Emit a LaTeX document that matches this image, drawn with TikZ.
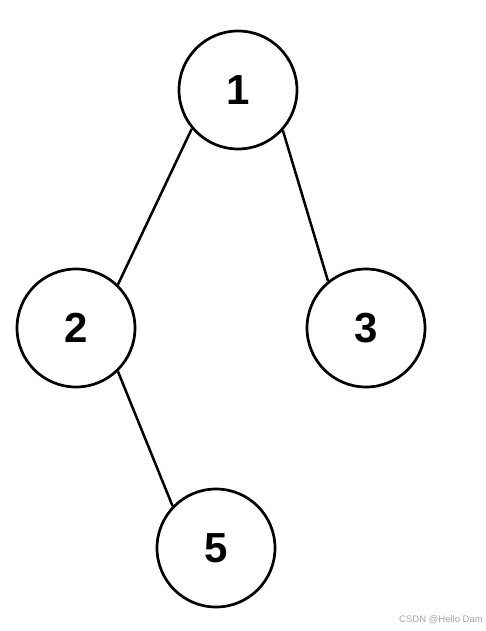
\documentclass[tikz,border=0pt]{standalone}
\usepackage{fontspec}
\setmainfont{Liberation Sans}
\begin{document}
\begin{tikzpicture}[x=1pt,y=-1pt,
  treenode/.style={circle,draw=black,line width=2.7pt,minimum size=118pt,inner sep=0pt,font=\fontsize{42}{42}\selectfont\bfseries},
  edge/.style={line width=2.5pt}]
\useasboundingbox (0,0) rectangle (485,631);
\node[treenode] (n1) at (238,90) {1};
\node[treenode] (n2) at (76,328) {2};
\node[treenode] (n3) at (366,328) {3};
\node[treenode] (n5) at (216,548) {5};
\draw[edge] (n1.220) -- (n2.46);
\draw[edge] (n1.318) -- (n3.129);
\draw[edge] (n2.314) -- (n5.136);
\node[font=\fontsize{9.5}{9.5}\selectfont,text=black!35] (wm) at (441,620) {CSDN @Hello Dam};
\end{tikzpicture}
\end{document}
